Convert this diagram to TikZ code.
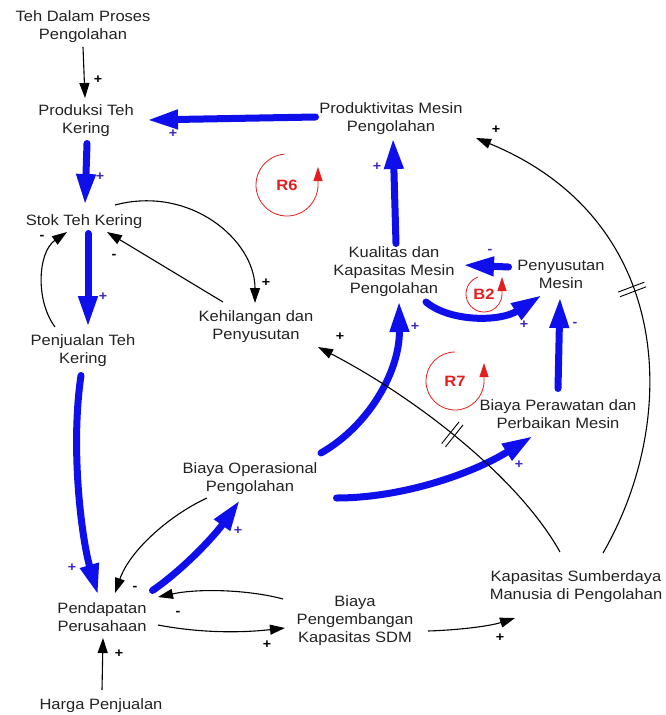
\documentclass[tikz,border=0pt]{standalone}
\usepackage{fontspec}
\setmainfont{Liberation Sans}[FakeStretch=1.1]
\usetikzlibrary{arrows.meta,decorations.markings}
\definecolor{linkblue}{RGB}{15,15,235}
\definecolor{signblue}{RGB}{60,40,200}
\definecolor{loopred}{RGB}{228,30,30}
\definecolor{ink}{RGB}{34,34,34}

\begin{document}
\begin{tikzpicture}[x=1pt,y=-1pt,
  var/.style={inner sep=0pt,outer sep=0pt,align=center,text=ink,font=\fontsize{15}{18}\selectfont},
  strong/.style={draw=linkblue,line width=7pt,line cap=round,-{Triangle[length=31pt,width=18pt]}},
  weak/.style={draw=black,line width=1.1pt,-{Triangle[length=15pt,width=10pt]}},
  kplus/.style={font=\fontsize{13}{13}\selectfont\bfseries,text=black,inner sep=0pt},
  bsign/.style={font=\fontsize{13}{13}\selectfont\bfseries,text=signblue,inner sep=0pt},
  loopcirc/.style={draw=loopred,line width=0.8pt,-{Triangle[length=14pt,width=9pt]}},
  looptag/.style={text=loopred,inner sep=0pt,font=\fontsize{15}{15}\selectfont\bfseries},
  delay/.style={postaction={decorate},decoration={markings,
      mark=at position #1 with {\draw[draw=black,line width=0.9pt,-] (-2.5,-14)--(-2.5,14) (2.5,-14)--(2.5,14);}}}
]
\path[use as bounding box] (0,0) rectangle (665,715);

% variables
\node[var] (tdp)   at (83,27)   {Teh Dalam Proses\\Pengolahan};
\node[var] (pro)   at (86,121)  {Produksi Teh\\Kering};
\node[var] (stok)  at (84,222)  {Stok Teh Kering};
\node[var] (pj)    at (83,351)  {Penjualan Teh\\Kering};
\node[var] (keh)   at (256,327) {Kehilangan dan\\Penyusutan};
\node[var] (prod)  at (391,119) {Produktivitas Mesin\\Pengolahan};
\node[var] (kual)  at (394,272) {Kualitas dan\\Kapasitas Mesin\\Pengolahan};
\node[var] (peny)  at (561,274) {Penyusutan\\Mesin};
\node[var] (bpm)   at (558,414) {Biaya Perawatan dan\\Perbaikan Mesin};
\node[var] (bop)   at (250,479) {Biaya Operasional\\Pengolahan};
\node[var] (pend)  at (102,617) {Pendapatan\\Perusahaan};
\node[var] (bpk)   at (355,621) {Biaya\\Pengembangan\\Kapasitas SDM};
\node[var] (ksdm)  at (576,587) {Kapasitas Sumberdaya\\Manusia di Pengolahan};
\node[var] (harga) at (101,706) {Harga Penjualan};

% strong (blue) links
\draw[strong] ([shift={(-75.5,-2)}]prod.center) -- ([shift={(61,-1)}]pro.center);
\draw[strong] ([shift={(1,22.5)}]pro.center) -- ([shift={(1,-17)}]stok.center);
\draw[strong] ([shift={(4,11.5)}]stok.center) -- ([shift={(5,-24)}]pj.center);
\draw[strong] ([shift={(-2,24.5)}]pj.center) .. controls (70,450) and (82,540) .. ([shift={(-4,-22)}]pend.center);
\draw[strong] ([shift={(50.5,-26.5)}]pend.center) .. controls (185,568) and (215,535) .. ([shift={(-10,21)}]bop.center);
\draw[strong] ([shift={(71,-26)}]bop.center) .. controls (370,425) and (400,370) .. ([shift={(5,29)}]kual.center);
\draw[strong] ([shift={(86.5,19)}]bop.center) .. controls (400,498) and (470,475) .. ([shift={(-25,22)}]bpm.center);
\draw[strong] ([shift={(2,-28.5)}]kual.center) -- ([shift={(2,19)}]prod.center);
\draw[strong] ([shift={(-52.5,-7)}]peny.center) -- ([shift={(69,-7)}]kual.center);
\draw[strong] ([shift={(32,30)}]kual.center) .. controls (450,322) and (500,322) .. ([shift={(-19,21)}]peny.center);
\draw[strong] ([shift={(0,-25.5)}]bpm.center) -- ([shift={(-1,23)}]peny.center);

% thin (black) links
\draw[weak] ([shift={(0,20)}]tdp.center) -- ([shift={(-1,-23)}]pro.center);
\draw[weak] ([shift={(31,-17)}]stok.center) .. controls (190,185) and (255,240) .. ([shift={(-1,-24)}]keh.center);
\draw[weak] ([shift={(-33,-25)}]keh.center) -- ([shift={(23,10)}]stok.center);
\draw[weak] ([shift={(-28,-24)}]pj.center) .. controls (35,300) and (38,252) .. ([shift={(-17,10)}]stok.center);
\draw[weak] ([shift={(-43,19)}]bop.center) .. controls (170,515) and (130,550) .. ([shift={(13,-24)}]pend.center);
\draw[weak] ([shift={(-72,-22)}]bpk.center) .. controls (250,590) and (200,588) .. ([shift={(56,-20)}]pend.center);
\draw[weak] ([shift={(56,8)}]pend.center) .. controls (200,633) and (240,633) .. ([shift={(-70,7)}]bpk.center);
\draw[weak] ([shift={(73,10)}]bpk.center) .. controls (460,630) and (490,626) .. ([shift={(-61,31)}]ksdm.center);
\draw[weak,delay=0.5] ([shift={(-16,-35)}]ksdm.center) .. controls (520,480) and (420,400) .. ([shift={(62,20)}]keh.center);
\draw[weak,delay=0.55] ([shift={(27,-34)}]ksdm.center) .. controls (680,420) and (675,220) .. ([shift={(85,19)}]prod.center);
\draw[weak] ([shift={(1,-16)}]harga.center) -- ([shift={(1,21)}]pend.center);

% polarity signs
\node[kplus] (p1) at (98,80)   {+};
\node[kplus] (p2) at (266,283) {+};
\node[kplus] (p3) at (340,337) {+};
\node[kplus] (p4) at (496,130) {+};
\node[kplus] (p5) at (267,645) {+};
\node[kplus] (p6) at (500,638) {+};
\node[kplus] (p7) at (119,654) {+};
\node[kplus] (m1) at (114,256) {-};
\node[kplus] (m2) at (42,237)  {-};
\node[kplus] (m3) at (135,588) {-};
\node[kplus] (m4) at (178,613) {-};
\node[bsign] (q1) at (173,134) {+};
\node[bsign] (q2) at (100,177) {+};
\node[bsign] (q3) at (103,297) {+};
\node[bsign] (q4) at (72,568)  {+};
\node[bsign] (q5) at (238,531) {+};
\node[bsign] (q6) at (415,327) {+};
\node[bsign] (q7) at (519,465) {+};
\node[bsign] (q8) at (377,167) {+};
\node[bsign] (q9) at (524,325) {+};
\node[bsign] (n1) at (490,251) {-};
\node[bsign] (n2) at (575,324) {-};

% loop markers
\node[looptag] (r6) at (287,185) {R6};
\draw[loopcirc] ([shift={(265:31)}]r6.center) arc[start angle=265,end angle=0,radius=31] -- ++(0,-18);
\node[looptag] (b2) at (484,294) {B2};
\draw[loopcirc] ([shift={(250:18)}]b2.center) arc[start angle=250,end angle=0,radius=18] -- ++(0,-17);
\node[looptag] (r7) at (455,381) {R7};
\draw[loopcirc] ([shift={(270:29)}]r7.center) arc[start angle=270,end angle=0,radius=29] -- ++(0,-18);
\end{tikzpicture}
\end{document}
